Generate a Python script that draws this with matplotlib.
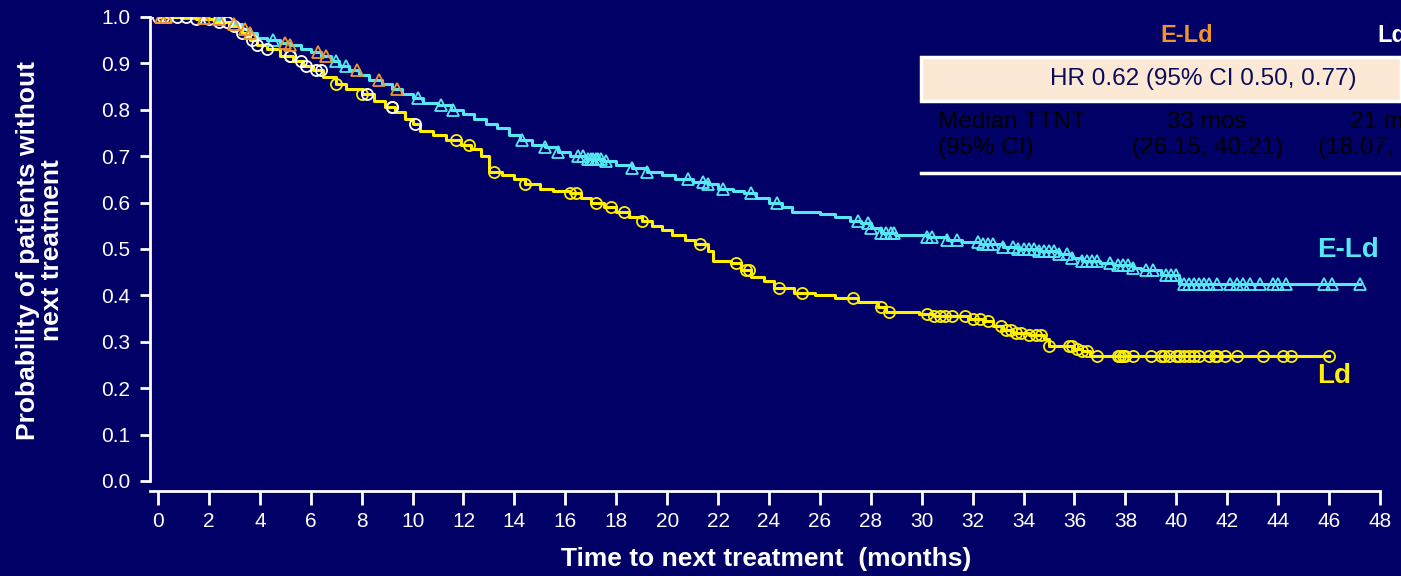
import numpy as np
import matplotlib.pyplot as plt

plt.rcParams['font.family'] = ['Liberation Sans', 'DejaVu Sans']

# Courbes de Kaplan-Meier : temps des événements (mois) et survie après chaque saut
eld_t = [0, 1.0, 2.0, 2.6, 3.0, 3.3, 3.6, 3.9, 4.3, 4.8, 5.2, 5.6, 6.0, 6.4, 6.8, 7.1, 7.5,
         7.9, 8.3, 8.8, 9.2, 9.6, 10.0, 10.4, 11.0, 11.5, 12.0, 12.4, 12.9, 13.3, 13.8, 14.2,
         14.7, 15.2, 15.7, 16.2, 16.8, 17.5, 18.0, 18.6, 19.2, 19.8, 20.3, 21.0, 21.6, 22.0,
         22.6, 23.0, 23.5, 24.0, 24.5, 24.9, 26.0, 26.6, 27.2, 27.6, 28.0, 28.4, 29.0, 30.2,
         31.0, 31.6, 32.3, 33.2, 33.8, 34.6, 35.4, 35.9, 36.3, 37.0, 37.5, 38.3, 38.6, 39.4,
         40.1, 47.2]
eld_s = [1.0, 0.998, 0.995, 0.99, 0.985, 0.975, 0.965, 0.955, 0.95, 0.945, 0.94, 0.93,
         0.925, 0.915, 0.905, 0.895, 0.885, 0.875, 0.865, 0.855, 0.845, 0.835, 0.825, 0.815,
         0.81, 0.80, 0.79, 0.78, 0.77, 0.76, 0.745, 0.735, 0.725, 0.72, 0.71, 0.70, 0.695,
         0.69, 0.68, 0.675, 0.665, 0.66, 0.65, 0.645, 0.64, 0.63, 0.625, 0.62, 0.61, 0.60,
         0.59, 0.58, 0.575, 0.57, 0.56, 0.555, 0.545, 0.535, 0.53, 0.525, 0.52, 0.515, 0.51,
         0.505, 0.50, 0.495, 0.49, 0.48, 0.475, 0.47, 0.465, 0.46, 0.455, 0.445, 0.425, 0.425]

ld_t = [0, 1.5, 2.2, 2.8, 3.3, 3.6, 3.9, 4.3, 4.8, 5.3, 5.7, 6.1, 6.5, 7.0, 7.4, 8.0, 8.5,
        8.9, 9.3, 9.7, 10.0, 10.3, 10.8, 11.3, 11.9, 12.3, 12.7, 13.0, 13.5, 14.0, 14.4, 15.0,
        15.5, 16.2, 16.6, 17.0, 17.5, 18.0, 18.5, 19.0, 19.4, 19.8, 20.2, 20.7, 21.1, 21.6,
        21.8, 22.5, 22.9, 23.3, 23.8, 24.2, 25.0, 25.8, 26.6, 27.5, 28.3, 28.6, 29.9, 30.5,
        31.8, 32.4, 32.8, 33.2, 33.6, 34.2, 34.8, 35.0, 36.0, 36.3, 36.6, 46.0]
ld_s = [1.0, 0.995, 0.99, 0.98, 0.965, 0.95, 0.94, 0.93, 0.915, 0.905, 0.895, 0.885, 0.87,
        0.855, 0.845, 0.835, 0.82, 0.805, 0.795, 0.78, 0.77, 0.755, 0.745, 0.735, 0.725,
        0.715, 0.70, 0.665, 0.66, 0.65, 0.64, 0.63, 0.625, 0.62, 0.61, 0.60, 0.59, 0.58,
        0.57, 0.56, 0.55, 0.54, 0.53, 0.52, 0.51, 0.495, 0.475, 0.47, 0.455, 0.44, 0.43,
        0.415, 0.405, 0.40, 0.395, 0.385, 0.375, 0.365, 0.36, 0.355, 0.35, 0.345, 0.335,
        0.325, 0.32, 0.315, 0.305, 0.29, 0.285, 0.28, 0.27, 0.27]

# Patients censurés
eld_cens_early = [0.1, 0.3, 1.8, 2.4, 3.0, 3.4, 3.6, 5.0, 5.2, 6.3, 6.6, 7.8, 8.7, 9.4]
eld_cens = [4.5, 7.0, 7.4, 10.2, 11.1, 11.6, 14.3, 15.2, 15.7, 16.5, 16.7, 16.9, 17.0, 17.1,
            17.2, 17.3, 17.4, 17.6, 18.6, 19.2, 20.8, 21.4, 21.6, 22.2, 23.3, 24.3, 27.5,
            27.9, 28.0, 28.4, 28.6, 28.8, 28.9, 30.2, 30.4, 31.0, 31.4, 32.2, 32.4, 32.6,
            32.8, 33.2, 33.6, 33.8, 34.0, 34.2, 34.4, 34.6, 34.8, 35.0, 35.2, 35.4, 35.7,
            35.9, 36.3, 36.5, 36.7, 36.9, 37.4, 37.7, 37.9, 38.1, 38.3, 38.8, 39.1, 39.6,
            39.8, 40.0, 40.3, 40.5, 40.7, 40.9, 41.1, 41.3, 41.6, 42.1, 42.4, 42.6, 42.9,
            43.3, 43.8, 44.0, 44.3, 45.8, 46.1, 47.2]
ld_cens_early = [0.0, 0.2, 0.35, 0.75, 1.1, 1.5, 2.0, 2.4, 2.7, 3.0, 3.3, 3.7, 3.9, 4.3,
                 5.2, 5.6, 5.8, 6.2, 6.4, 8.2, 9.2, 10.1]
ld_cens = [5.2, 7.0, 8.0, 9.2, 11.7, 12.2, 13.2, 14.4, 16.2, 16.4, 17.2, 17.8, 18.3, 19.0,
           21.3, 22.7, 23.1, 23.2, 24.4, 25.3, 27.3, 28.4, 28.7, 30.2, 30.5, 30.7, 30.9,
           31.2, 31.7, 32.0, 32.3, 32.6, 33.1, 33.3, 33.5, 33.7, 33.9, 34.2, 34.5, 34.7,
           35.0, 35.8, 35.9, 36.1, 36.3, 36.5, 36.9, 37.7, 37.8, 37.9, 38.0, 38.3, 39.0,
           39.4, 39.5, 39.7, 40.0, 40.1, 40.3, 40.5, 40.7, 40.9, 41.3, 41.5, 41.6, 41.9,
           42.4, 43.4, 44.2, 44.5, 46.0]

xticks = np.arange(0, 49, 2)
yticks = np.round(np.arange(0, 1.01, 0.1), 1)

bg = '#000066'
cyan = '#55E8F2'
yellow = '#FFF000'
orange = '#F0952E'


def surv_at(times, surv, pts):
    idx = np.searchsorted(times, pts, side='right') - 1
    return np.asarray(surv)[idx]


fig = plt.figure(figsize=(14.01, 5.76), dpi=100, facecolor=bg)
ax = fig.add_axes([150 / 1401, 95 / 576, 1230 / 1401, 464 / 576], facecolor=bg)

ax.plot(eld_t, eld_s, drawstyle='steps-post', color=cyan, lw=2.2, zorder=2)
ax.plot(ld_t, ld_s, drawstyle='steps-post', color=yellow, lw=2.2, zorder=3)

mk = dict(ls='none', mfc='none', ms=8, mew=1.3)
ax.plot(eld_cens, surv_at(eld_t, eld_s, eld_cens), marker='^', mec=cyan, zorder=4, **mk)
ax.plot(ld_cens, surv_at(ld_t, ld_s, ld_cens), marker='o', mec=yellow, zorder=4, **mk)
ax.plot(ld_cens_early, surv_at(ld_t, ld_s, ld_cens_early), marker='o', mec='white',
        zorder=5, **mk)
ax.plot(eld_cens_early, surv_at(eld_t, eld_s, eld_cens_early), marker='^', mec=orange,
        zorder=6, **mk)

ax.set_xlim(-0.314, 48)
ax.set_ylim(0, 1.0)
ax.set_xticks(xticks)
ax.set_yticks(yticks)
ax.set_yticklabels([f'{v:.1f}' for v in yticks])

for s in ['top', 'right']:
    ax.spines[s].set_visible(False)
for s in ['left', 'bottom']:
    ax.spines[s].set_color('white')
    ax.spines[s].set_linewidth(2)
ax.spines['bottom'].set_position(('outward', 7))
ax.tick_params(colors='white', labelsize=15, width=2, length=10, pad=5)
ax.tick_params(axis='y', length=7, pad=7)

fig.text(40 / 1401, 1 - 250 / 576, 'Probability of patients without\nnext treatment',
         rotation=90, ha='center', va='center', ma='center', color='white',
         fontsize=19, fontweight='bold', linespacing=1.05)
fig.text(766 / 1401, 1 - 559 / 576, 'Time to next treatment  (months)', ha='center',
         va='center', color='white', fontsize=19, fontweight='bold')

ax.text(1348, 576 - 250, 'E-Ld', transform=None, color=cyan, fontsize=20,
        fontweight='bold', ha='center', va='center')
ax.text(1334, 576 - 376, 'Ld', transform=None, color=yellow, fontsize=20,
        fontweight='bold', ha='center', va='center')


# Tableau HR / médiane en haut à droite
def fx(px):
    return px / 1401


def fy(py):
    return 1 - py / 576


fig.text(fx(1187), fy(36), 'E-Ld', color=orange, fontsize=17, fontweight='bold',
         ha='center', va='center')
fig.text(fx(1377), fy(36), 'Ld', color='white', fontsize=17, fontweight='bold',
         ha='left', va='center')
fig.patches.append(plt.Rectangle((fx(921), fy(101)), fx(480), 44 / 576,
                                 transform=fig.transFigure, facecolor='#FBE9D5',
                                 edgecolor='white', lw=2.5))
fig.text(fx(1203), fy(79), 'HR 0.62 (95% CI 0.50, 0.77)', color='#0A0A5A', fontsize=17.5,
         ha='center', va='center')
fig.lines.append(plt.Line2D([fx(921), 1], [fy(173), fy(173)], transform=fig.transFigure,
                            color='white', lw=2.5))
fs = 17.5
fig.text(fx(938), fy(122), 'Median TTNT', color='black', fontsize=fs, ha='left',
         va='center')
fig.text(fx(938), fy(148), '(95% CI)', color='black', fontsize=fs, ha='left', va='center')
fig.text(fx(1207), fy(122), '33 mos', color='black', fontsize=fs, ha='center', va='center')
fig.text(fx(1208), fy(148), '(26.15, 40.21)', color='black', fontsize=fs, ha='center',
         va='center')
fig.text(fx(1350), fy(122), '21 mos', color='black', fontsize=fs, ha='left', va='center')
fig.text(fx(1318), fy(148), '(18.07, 24.02)', color='black', fontsize=fs, ha='left',
         va='center')

fig.savefig('out.png', dpi=100, facecolor=bg)
